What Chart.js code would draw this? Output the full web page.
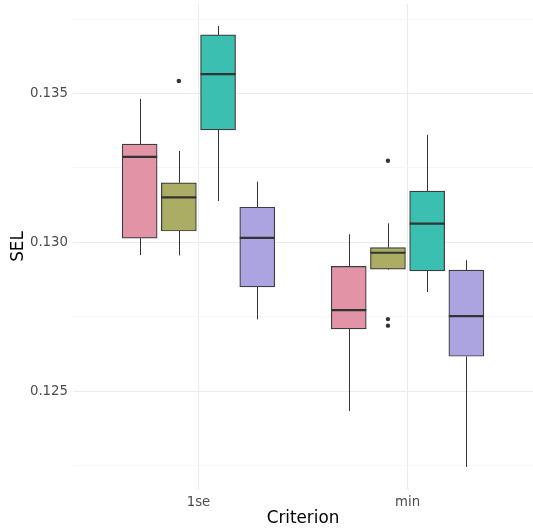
<!DOCTYPE html>
<html>
<head>
<meta charset="utf-8">
<script src="https://cdn.jsdelivr.net/npm/chart.js@4"></script>
<style>
  html, body { margin: 0; padding: 0; background: #ffffff; }
  #wrap { width: 533px; height: 531px; }
</style>
</head>
<body>
<div id="wrap"><canvas id="chart" width="533" height="531"></canvas></div>
<script>
// categories on the x axis and the four box groups drawn in each
const categories = ['1se', 'min'];
const groupColors = ['#E293A5', '#AAAD63', '#3ABFB0', '#ABA4E1'];
const dodge = [-0.28125, -0.09375, 0.09375, 0.28125];

// box statistics, one row per group, one column per category
const whiskerLo = [[0.12957, 0.12433], [0.12956, 0.12908], [0.13139, 0.12833], [0.12741, 0.12245]];
const q1        = [[0.13014, 0.12709], [0.13038, 0.12910], [0.13378, 0.12904], [0.12850, 0.12617]];
const median    = [[0.13287, 0.12772], [0.13151, 0.12965], [0.13565, 0.13063], [0.13015, 0.12752]];
const q3        = [[0.13330, 0.12919], [0.13200, 0.12982], [0.13697, 0.13172], [0.13118, 0.12907]];
const whiskerHi = [[0.13482, 0.13027], [0.13307, 0.13064], [0.13727, 0.13361], [0.13204, 0.12940]];

// outliers: group index, category index, value
const outlierGroup = [1, 1, 1, 1];
const outlierCat   = [0, 1, 1, 1];
const outlierValue = [0.13542, 0.13274, 0.12742, 0.12720];

// y axis ticks (major ones get labels)
const yTicks = [0.1225, 0.125, 0.1275, 0.130, 0.1325, 0.135, 0.1375];
const yRange = [0.12171, 0.13801];

const isMajor = v => Math.round(v * 10000) % 50 === 0;

const boxDatasets = groupColors.map((color, g) => ({
    type: 'bar',
    data: categories.map((c, i) => ({ x: i + 1 + dodge[g], y: [q1[g][i], q3[g][i]] })),
    backgroundColor: color,
    borderColor: '#3c3c3c',
    borderWidth: 1.2,
    borderSkipped: false,
    barThickness: 35,
    grouped: false,
    order: 2
}));

const outlierDataset = {
    type: 'scatter',
    data: outlierValue.map((v, k) => ({ x: outlierCat[k] + 1 + dodge[outlierGroup[k]], y: v })),
    pointRadius: 2.2,
    pointBackgroundColor: '#333333',
    pointBorderWidth: 0,
    order: 1
};

// whiskers behind the boxes, medians on top
const boxLines = {
    id: 'boxLines',
    beforeDatasetsDraw(chart) {
        const { ctx, scales: { x, y } } = chart;
        ctx.save();
        ctx.strokeStyle = '#333333';
        ctx.lineWidth = 1;
        groupColors.forEach((_, g) => {
            categories.forEach((c, i) => {
                const px = Math.round(x.getPixelForValue(i + 1 + dodge[g])) + 0.5;
                ctx.beginPath();
                ctx.moveTo(px, y.getPixelForValue(whiskerHi[g][i]));
                ctx.lineTo(px, y.getPixelForValue(q3[g][i]));
                ctx.moveTo(px, y.getPixelForValue(q1[g][i]));
                ctx.lineTo(px, y.getPixelForValue(whiskerLo[g][i]));
                ctx.stroke();
            });
        });
        ctx.restore();
    },
    afterDatasetsDraw(chart) {
        const { ctx, scales: { x, y } } = chart;
        ctx.save();
        ctx.strokeStyle = '#333333';
        ctx.lineWidth = 2.2;
        groupColors.forEach((_, g) => {
            categories.forEach((c, i) => {
                const px = x.getPixelForValue(i + 1 + dodge[g]);
                const py = y.getPixelForValue(median[g][i]);
                ctx.beginPath();
                ctx.moveTo(px - 17.5, py);
                ctx.lineTo(px + 17.5, py);
                ctx.stroke();
            });
        });
        ctx.restore();
    }
};

new Chart(document.getElementById('chart'), {
    type: 'bar',
    data: { datasets: [...boxDatasets, outlierDataset] },
    options: {
        responsive: false,
        animation: false,
        layout: { autoPadding: false, padding: { top: 4, right: 0, left: 0, bottom: 0 } },
        plugins: { legend: { display: false }, tooltip: { enabled: false } },
        scales: {
            x: {
                type: 'linear',
                min: 0.4,
                max: 2.6,
                offset: false,
                border: { display: false },
                grid: { color: '#EBEBEB', lineWidth: 1.1, drawTicks: false, offset: false },
                afterBuildTicks: s => { s.ticks = [{ value: 1 }, { value: 2 }]; },
                afterFit: s => { s.height = 42; s.paddingLeft = 0; s.paddingRight = 0; },
                ticks: {
                    padding: 6,
                    color: '#4D4D4D',
                    font: { family: 'DejaVu Sans', size: 13.3 },
                    callback: v => categories[v - 1]
                },
                title: {
                    display: true,
                    text: 'Criterion',
                    color: '#000000',
                    font: { family: 'DejaVu Sans', size: 16.8 },
                    padding: { top: 0, bottom: 2.5 }
                }
            },
            y: {
                min: yRange[0],
                max: yRange[1],
                border: { display: false },
                grid: {
                    drawTicks: false,
                    color: ctx => isMajor(ctx.tick.value) ? '#EBEBEB' : '#F3F3F3',
                    lineWidth: ctx => isMajor(ctx.tick.value) ? 1.1 : 0.7
                },
                afterBuildTicks: s => { s.ticks = yTicks.map(v => ({ value: v })); },
                afterFit: s => { s.width = 73; s.paddingTop = 0; s.paddingBottom = 0; },
                ticks: {
                    padding: 5,
                    color: '#4D4D4D',
                    font: { family: 'DejaVu Sans', size: 13.3 },
                    callback: v => isMajor(v) ? v.toFixed(3) : ''
                },
                title: {
                    display: true,
                    text: 'SEL',
                    color: '#000000',
                    font: { family: 'DejaVu Sans', size: 16.8 },
                    padding: { top: 9, bottom: 0 }
                }
            }
        }
    },
    plugins: [boxLines]
});
</script>
</body>
</html>
